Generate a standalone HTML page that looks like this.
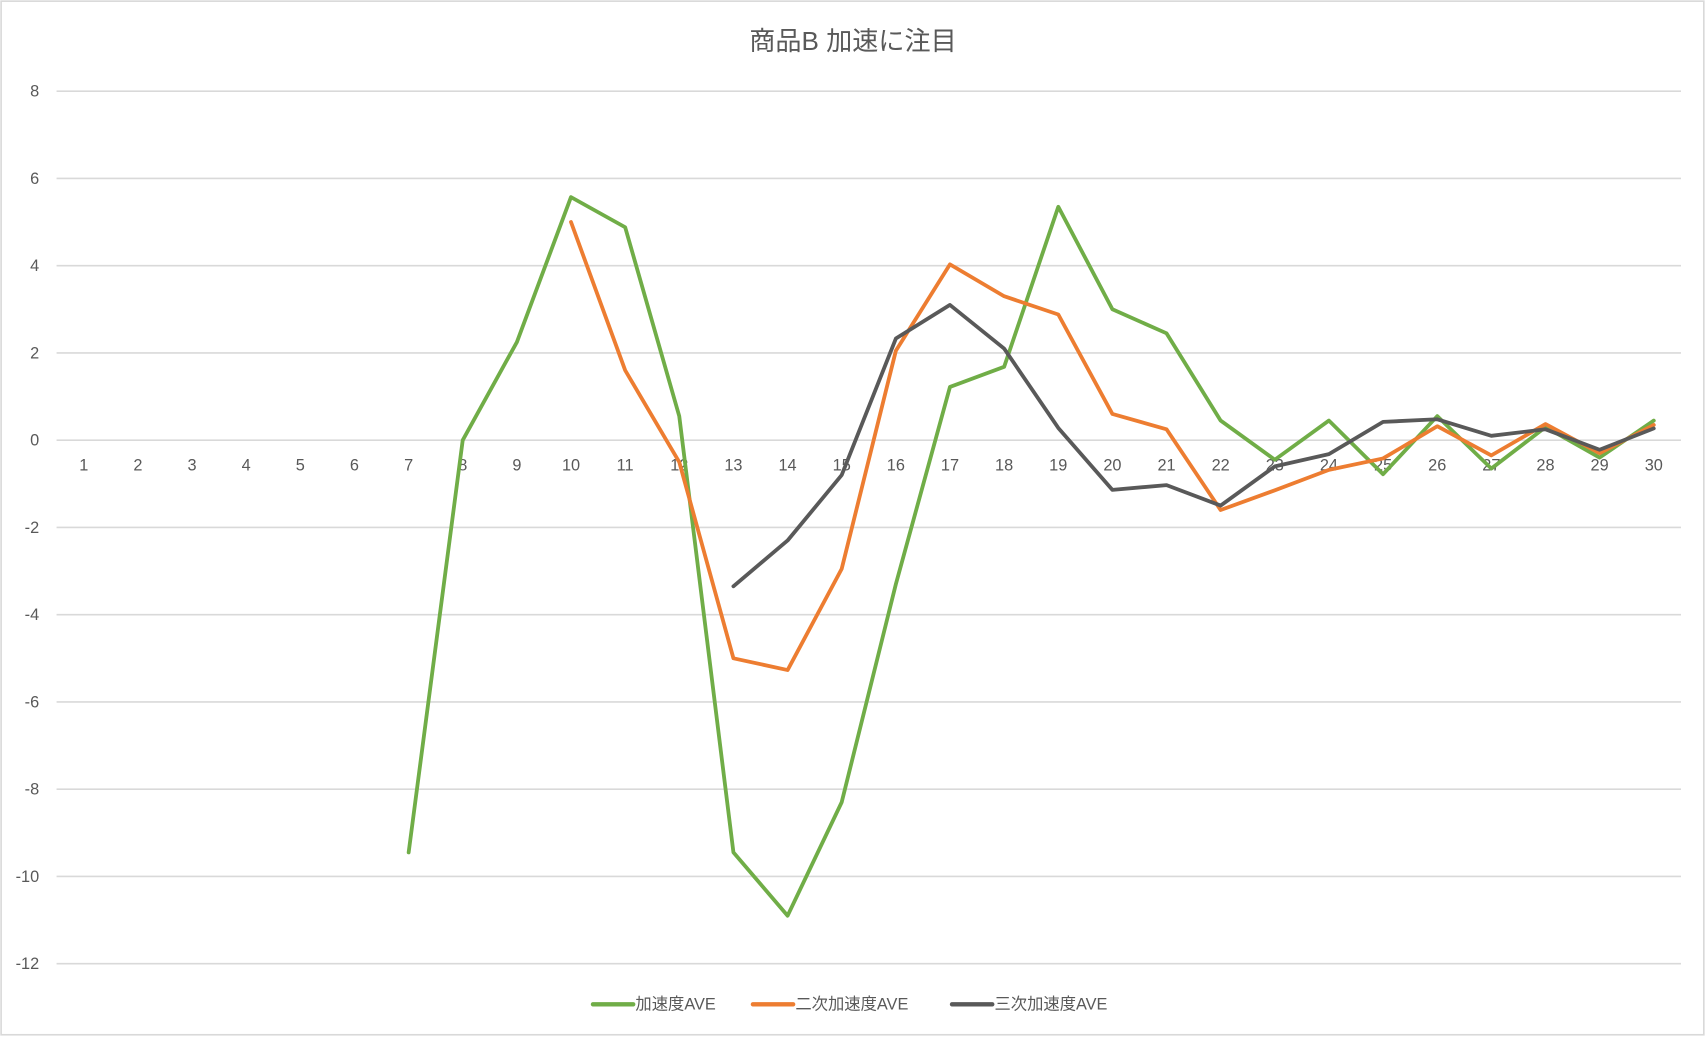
<!DOCTYPE html>
<html><head><meta charset="utf-8"><style>
html,body{margin:0;padding:0;background:#fff;}
svg{display:block;}
text{font-family:"Liberation Sans","Noto Sans CJK JP",sans-serif;fill:#595959;}
</style></head><body>
<svg id="chart" width="1706" height="1037" viewBox="0 0 1568 953" xmlns="http://www.w3.org/2000/svg">
<rect x="1" y="1" width="1565" height="950" fill="#fff" stroke="#d9d9d9" stroke-width="1.5"/>
<text x="784" y="46" text-anchor="middle" font-size="24">商品B 加速に注目</text>
<g id="grid"></g><g id="xlabels"></g><g id="ylabels"></g><g id="series"></g>
<g font-size="15">
<line x1="545" y1="923" x2="582" y2="923" stroke="#70ad47" stroke-width="4" stroke-linecap="round"/>
<text x="584" y="928">加速度AVE</text>
<line x1="692" y1="923" x2="729" y2="923" stroke="#ed7d31" stroke-width="4" stroke-linecap="round"/>
<text x="731" y="928">二次加速度AVE</text>
<line x1="875" y1="923" x2="912" y2="923" stroke="#595959" stroke-width="4" stroke-linecap="round"/>
<text x="914" y="928">三次加速度AVE</text>
</g>
</svg>
<script>
const categories = [1,2,3,4,5,6,7,8,9,10,11,12,13,14,15,16,17,18,19,20,21,22,23,24,25,26,27,28,29,30];
const accel = [null,null,null,null,null,null,-9.45,0,2.25,5.57,4.88,0.55,-9.45,-10.9,-8.3,-3.3,1.22,1.68,5.35,3.0,2.45,0.45,-0.45,0.45,-0.78,0.55,-0.65,0.3,-0.4,0.45];
const accel2 = [null,null,null,null,null,null,null,null,null,5.0,1.6,-0.5,-5.0,-5.27,-2.95,2.05,4.03,3.3,2.88,0.6,0.25,-1.6,-1.15,-0.68,-0.42,0.32,-0.35,0.37,-0.3,0.35];
const accel3 = [null,null,null,null,null,null,null,null,null,null,null,null,-3.35,-2.3,-0.8,2.33,3.1,2.1,0.28,-1.14,-1.03,-1.5,-0.6,-0.32,0.42,0.48,0.1,0.25,-0.22,0.27];
const yTicks = [8,6,4,2,0,-2,-4,-6,-8,-10,-12];

const NS = "http://www.w3.org/2000/svg";
function xPos(i){ return 77 + i*(1520-77)/29; }
function yPos(v){ return 404.5 - v*(886-84)/20; }
function mk(tag, attrs, parent){ const e=document.createElementNS(NS,tag); for(const k in attrs) e.setAttribute(k,attrs[k]); parent.appendChild(e); return e; }

const grid=document.getElementById('grid'), yl=document.getElementById('ylabels'), xl=document.getElementById('xlabels'), sg=document.getElementById('series');
yTicks.forEach(t=>{
  const l=mk('line',{x1:52,x2:1545,y1:yPos(t),y2:yPos(t),stroke:'#d9d9d9','stroke-width':1.5},grid);
  
  
  const tx=mk('text',{x:36,y:yPos(t)+5,'text-anchor':'end','font-size':15},yl);
  tx.textContent=t;
  
  
});
categories.forEach((c,i)=>{
  const tx=mk('text',{x:xPos(i),y:yPos(0)+28,'text-anchor':'middle','font-size':15},xl);
  tx.textContent=c;
  
  
});
function drawSeries(vals,color,name){
  let d='';
  vals.forEach((v,i)=>{ if(v===null) return; d+=(d?'L':'M')+xPos(i).toFixed(1)+' '+yPos(v).toFixed(1); });
  const p=mk('path',{d:d,fill:'none',stroke:color,'stroke-width':3.5,'stroke-linejoin':'round','stroke-linecap':'round'},sg);
  
  
}
drawSeries(accel,'#70ad47','series-accel-line');
drawSeries(accel2,'#ed7d31','series-accel2-line');
drawSeries(accel3,'#595959','series-accel3-line');
</script>
</body></html>
